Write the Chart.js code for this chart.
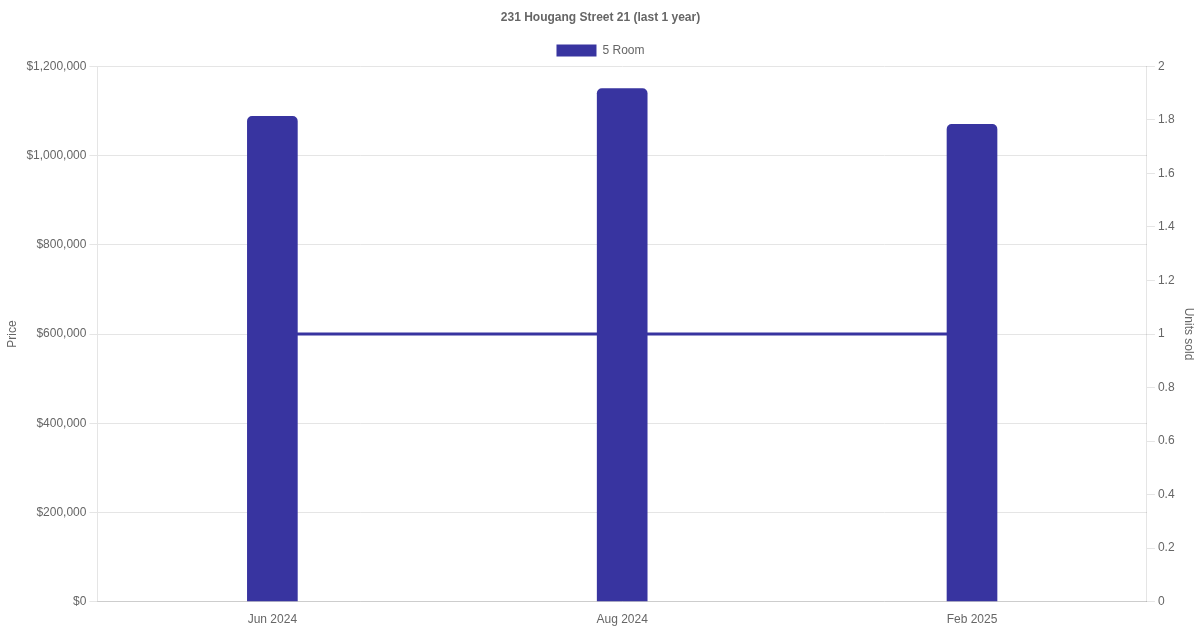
<!DOCTYPE html>
<html>
<head>
<meta charset="utf-8">
<script src="https://cdn.jsdelivr.net/npm/chart.js@4"></script>
<style>
  html, body { margin: 0; padding: 0; background: #fff; }
  #wrap { width: 1200px; height: 630px; }
</style>
</head>
<body>
<div id="wrap"><canvas id="priceChart"></canvas></div>
<script>
const months = ['Jun 2024', 'Aug 2024', 'Feb 2025'];
const prices = [1088000, 1150000, 1070000];
const unitsSold = [1, 1, 1];
const barColor = '#3834A0';

Chart.defaults.font.family = '"Liberation Sans", Arial, sans-serif';
Chart.defaults.font.size = 12;
Chart.defaults.color = '#666';

const ctx = document.getElementById('priceChart').getContext('2d');
new Chart(ctx, {
    type: 'bar',
    data: {
        labels: months,
        datasets: [{
            type: 'line',
            label: 'Units sold',
            data: unitsSold,
            yAxisID: 'units',
            borderColor: barColor,
            borderWidth: 3,
            pointRadius: 0,
            fill: false,
            order: 2
        }, {
            type: 'bar',
            label: '5 Room',
            data: prices,
            yAxisID: 'price',
            backgroundColor: barColor,
            borderColor: barColor,
            borderRadius: 5,
            borderSkipped: 'bottom',
            barThickness: 50,
            order: 1
        }]
    },
    options: {
        responsive: true,
        maintainAspectRatio: false,
        animation: false,
        layout: { padding: { left: 1 } },
        plugins: {
            title: {
                display: true,
                text: '231 Hougang Street 21 (last 1 year)',
                font: { size: 12, weight: 'bold' },
                padding: { top: 10, bottom: 10 }
            },
            legend: {
                labels: {
                    filter: item => item.text !== 'Units sold',
                    boxWidth: 40,
                    boxHeight: 12
                }
            },
            tooltip: { enabled: false }
        },
        scales: {
            x: {
                grid: { display: false },
                ticks: { color: '#666' }
            },
            price: {
                position: 'left',
                min: 0,
                max: 1200000,
                ticks: {
                    stepSize: 200000,
                    callback: v => '$' + v.toLocaleString('en-US')
                },
                grid: { color: '#e5e5e5' },
                title: { display: true, text: 'Price' }
            },
            units: {
                position: 'right',
                min: 0,
                max: 2,
                ticks: {
                    stepSize: 0.2,
                    callback: v => String(Math.round(v * 10) / 10)
                },
                grid: { drawOnChartArea: false, color: '#e5e5e5' },
                title: { display: true, text: 'Units sold' }
            }
        }
    }
});
</script>
</body>
</html>
